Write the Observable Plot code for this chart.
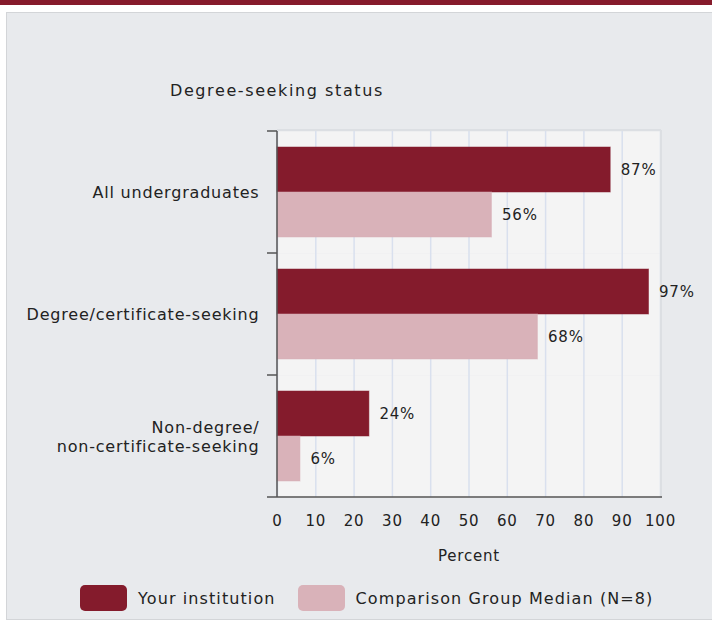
<!DOCTYPE html>
<html>
<head>
<meta charset="utf-8">
<script src="https://cdn.jsdelivr.net/npm/d3@7"></script>
<script src="https://cdn.jsdelivr.net/npm/@observablehq/plot@0.6"></script>
<style>
  body { margin: 0; background: #ffffff; }
  #wrap { position: relative; width: 712px; height: 622px; overflow: hidden; font-family: "DejaVu Sans", sans-serif; color: #222; }
  #strip { position: absolute; left: 0; top: 0; width: 712px; height: 5px; background: #861b2c; }
  #panel { position: absolute; left: 6px; top: 12px; width: 720px; height: 606px; background: #e8eaed; border: 1px solid #d3d5d8; }
  #title { position: absolute; left: 170px; top: 81px; font-size: 16px; letter-spacing: 1.6px; }
  #chart { position: absolute; left: 0; top: 0; }
  #legend { position: absolute; left: 80px; top: 585px; display: flex; align-items: center; font-size: 16px; letter-spacing: 1.1px; }
  .sw { width: 47px; height: 26px; border-radius: 5px; display: inline-block; }
  .item { display: flex; align-items: center; }
</style>
</head>
<body>
<div id="wrap">
  <div id="strip"></div>
  <div id="panel"></div>
  <div id="title">Degree-seeking status</div>
  <div id="chart"></div>
  <div id="legend"></div>
</div>
<script>
const categories = ["All undergraduates", "Degree/certificate-seeking", "Non-degree/\nnon-certificate-seeking"];
const series = ["Your institution", "Comparison Group Median (N=8)"];
const yourInstitution = [87, 97, 24];
const comparisonMedian = [56, 68, 6];
const xTicks = [0, 10, 20, 30, 40, 50, 60, 70, 80, 90, 100];
const colors = ["#841b2c", "#d9b2b9"];

const rows = [];
categories.forEach((c, i) => {
  rows.push({category: c, series: series[0], value: yourInstitution[i]});
  rows.push({category: c, series: series[1], value: comparisonMedian[i]});
});

const plot = Plot.plot({
  width: 712,
  height: 565,
  marginLeft: 277,
  marginRight: 52,
  marginTop: 131,
  marginBottom: 68,
  style: {fontFamily: "DejaVu Sans, sans-serif", fontSize: "15px", color: "#222", background: "transparent", letterSpacing: "0.8px"},
  x: {domain: [0, 100], ticks: xTicks},
  y: {domain: series, paddingInner: 0, paddingOuter: 0.355, axis: null},
  fy: {domain: categories, padding: 0},
  color: {domain: series, range: colors},
  marks: [
    Plot.frame({fill: "#f4f4f4", stroke: null}),
    Plot.gridX(xTicks, {stroke: "#d9e0ee", strokeOpacity: 1, strokeWidth: 1.5}),
    Plot.barX(rows, {x: "value", y: "series", fy: "category", fill: "series", stroke: "series", strokeOpacity: 0.5, strokeWidth: 1}),
    Plot.text(rows, {x: "value", y: "series", fy: "category", text: d => d.value + "%", textAnchor: "start", dx: 10, fontSize: 15, fill: "#222"}),
    Plot.axisFy({anchor: "left", tickSize: 0, tickPadding: 18, label: null, fontSize: 16, lineHeight: 1.15, tickFormat: d => d}),
    Plot.axisX({anchor: "bottom", ticks: xTicks, tickSize: 0, tickPadding: 18, fontSize: 15, label: "Percent", labelAnchor: "center", labelArrow: "none", labelOffset: 63})
  ]
});
document.getElementById("chart").appendChild(plot);

// axis lines and band-boundary ticks drawn from the plot's own scales, placed beneath the value labels
const xs = plot.scale("x");
const fys = plot.scale("fy");
const svgSel = d3.select(plot);
const xStart = xs.apply(0), xEnd = xs.apply(100);
const yTop = fys.apply(categories[0]);
const yBottom = fys.apply(categories[categories.length - 1]) + fys.bandwidth;
const textGroup = plot.querySelector("g[aria-label='text']");
const g = textGroup ? svgSel.insert("g", () => textGroup) : svgSel.append("g");
g.append("line").attr("x1", xStart).attr("x2", xEnd + 1).attr("y1", yTop - 1).attr("y2", yTop - 1).attr("stroke", "#dcdfe3").attr("stroke-width", 2);
g.append("line").attr("x1", xEnd + 1).attr("x2", xEnd + 1).attr("y1", yTop - 1).attr("y2", yBottom).attr("stroke", "#dcdfe3").attr("stroke-width", 2);
g.append("line").attr("x1", xStart).attr("x2", xStart).attr("y1", yTop).attr("y2", yBottom).attr("stroke", "#555").attr("stroke-width", 1.5);
g.append("line").attr("x1", xStart - 10).attr("x2", xEnd + 2).attr("y1", yBottom).attr("y2", yBottom).attr("stroke", "#555").attr("stroke-width", 1.5);
categories.forEach(c => {
  const yy = fys.apply(c);
  g.append("line").attr("x1", xStart - 10).attr("x2", xStart).attr("y1", yy).attr("y2", yy).attr("stroke", "#555").attr("stroke-width", 1.5);
});

const legend = d3.select("#legend");
series.forEach((s, i) => {
  const item = legend.append("div").attr("class", "item").style("margin-right", i === 0 ? "22px" : "0");
  item.append("span").attr("class", "sw").style("background", colors[i]);
  item.append("span").style("margin-left", "11px").text(s);
});
</script>
</body>
</html>
